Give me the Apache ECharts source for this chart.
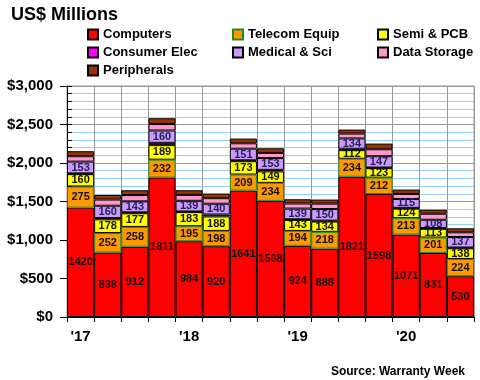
<!DOCTYPE html>
<html>
<head>
<meta charset="utf-8">
<script src="https://cdn.jsdelivr.net/npm/echarts@6/dist/echarts.min.js"></script>
<style>html,body{margin:0;padding:0;background:#fff;}#c{width:480px;height:380px;}</style>
</head>
<body>
<div id="c"></div>
<script>
const quarters = ["'17","","","","'18","","","","'19","","","","'20","",""];
const computers = [1420, 838, 912, 1811, 984, 920, 1641, 1508, 924, 888, 1821, 1598, 1071, 831, 530];
const telecom   = [275, 252, 258, 232, 195, 198, 209, 234, 194, 218, 234, 212, 213, 201, 224];
const semi      = [160, 178, 177, 189, 183, 188, 173, 149, 143, 134, 112, 123, 124, 113, 138];
const consumer  = [10, 17, 12, 30, 8, 25, 12, 20, 8, 12, 18, 8, 10, 10, 10];
const medical   = [153, 160, 143, 160, 139, 140, 151, 153, 139, 150, 134, 147, 115, 108, 137];
const storage   = [70, 80, 82, 85, 77, 72, 70, 67, 66, 70, 63, 90, 65, 78, 61];
const peripherals = [65, 60, 62, 74, 60, 60, 61, 60, 55, 53, 52, 74, 57, 52, 52];
const yTicks = [0, 500, 1000, 1500, 2000, 2500, 3000];

const FONT = 'Liberation Sans, Arial, sans-serif';
const chart = echarts.init(document.getElementById('c'), null, {renderer: 'canvas'});

function mk(name, data, color, border, showLabel, labelColor) {
  return {
    name: name, type: 'bar', stack: 'total', data: data,
    barCategoryGap: '0%',
    itemStyle: {color: color, borderColor: border, borderWidth: 1},
    label: {show: showLabel, position: 'inside', color: labelColor || '#111',
      fontFamily: FONT, fontWeight: 'bold', fontSize: 11},
    emphasis: {disabled: true},
    animation: false
  };
}
const legendText = {fontFamily: FONT, fontWeight: 'bold', fontSize: 13, color: '#000', lineHeight: 13};
const legendCommon = {orient: 'vertical', itemWidth: 10, itemHeight: 10, itemGap: 5,
  icon: 'rect', textStyle: legendText, selectedMode: false};

chart.setOption({
  animation: false,
  title: {text: 'US$ Millions', left: 6, top: 1,
    textStyle: {fontFamily: FONT, fontWeight: 'bold', fontSize: 18, color: '#000'}},
  graphic: [{type: 'text', right: 15, top: 366,
    style: {text: 'Source: Warranty Week', font: 'bold 12px ' + FONT, fill: '#000'}}],
  legend: [
    Object.assign({left: 82, top: 23, data: ['Computers', 'Consumer Elec', 'Peripherals']}, legendCommon),
    Object.assign({left: 227, top: 23, data: ['Telecom Equip', 'Medical & Sci']}, legendCommon),
    Object.assign({left: 372, top: 23, data: ['Semi & PCB', 'Data Storage']}, legendCommon)
  ],
  grid: {left: 67, right: 6, top: 86, bottom: 63, show: true, borderColor: '#999', borderWidth: 1},
  xAxis: {
    type: 'category', data: quarters,
    axisLine: {lineStyle: {color: '#000', width: 1}},
    axisTick: {show: true, interval: 0, length: 5, lineStyle: {color: '#000'}},
    axisLabel: {interval: 0, margin: 12, fontFamily: FONT, fontWeight: 'bold', fontSize: 15, color: '#000'},
    splitLine: {show: true, interval: 0, lineStyle: {color: '#999', width: 1}}
  },
  yAxis: [{
    type: 'value', min: yTicks[0], max: yTicks[yTicks.length - 1], interval: 500,
    axisLine: {show: true, lineStyle: {color: '#000', width: 1}},
    axisTick: {show: true, length: 7, lineStyle: {color: '#000'}},
    axisLabel: {margin: 14, fontFamily: FONT, fontWeight: 'bold', fontSize: 15, color: '#000',
      formatter: v => '$' + v.toLocaleString('en-US')},
    splitLine: {show: true, lineStyle: {color: '#999', width: 1}},
    minorTick: {show: false, splitNumber: 5},
    minorSplitLine: {show: true, lineStyle: {color: '#99ccff', width: 1}}
  }, {
    type: 'value', position: 'left', min: 0, max: 3000, interval: 100,
    axisLine: {show: false}, axisLabel: {show: false}, splitLine: {show: false},
    axisTick: {show: true, inside: true, length: 5, lineStyle: {color: '#000'}}
  }],
  series: [
    mk('Computers', computers, '#ff0000', '#000', true),
    mk('Telecom Equip', telecom, '#ff9900', '#228b22', true),
    mk('Semi & PCB', semi, '#ffff00', '#000', true),
    mk('Consumer Elec', consumer, '#ff00ff', '#000', false),
    mk('Medical & Sci', medical, '#cc99ff', '#000', true, '#222255'),
    mk('Data Storage', storage, '#ff99cc', '#000', false),
    mk('Peripherals', peripherals, '#993300', '#000', false)
  ]
});
</script>
</body>
</html>
